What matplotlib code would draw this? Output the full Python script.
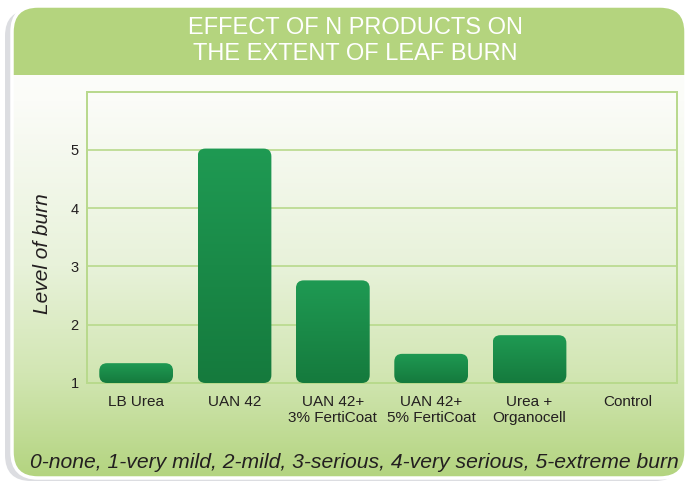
import numpy as np
import matplotlib
matplotlib.use("Agg")
import matplotlib.pyplot as plt
from matplotlib.patches import FancyBboxPatch, Rectangle
from matplotlib.colors import LinearSegmentedColormap

# data
categories = ["LB Urea", "UAN 42", "UAN 42+\n3% FertiCoat", "UAN 42+\n5% FertiCoat",
              "Urea +\nOrganocell", "Control"]
burn_level = [1.34, 5.02, 2.76, 1.50, 1.82, 1.0]
y_ticks = [1, 2, 3, 4, 5]

title = "EFFECT OF N PRODUCTS ON\nTHE EXTENT OF LEAF BURN"
footer = "0-none, 1-very mild, 2-mild, 3-serious, 4-very serious, 5-extreme burn"

W, H = 689, 484
plt.rcParams['font.family'] = ['Liberation Sans', 'DejaVu Sans']
text_col = "#231f20"
line_col = "#b8d98c"

fig = plt.figure(figsize=(W / 100, H / 100), dpi=100)
fig.patch.set_facecolor("white")

# background panel (pixel coords)
bg = fig.add_axes([0, 0, 1, 1])
bg.set_xlim(0, W)
bg.set_ylim(H, 0)
bg.axis("off")

shadow = FancyBboxPatch((5, 10), 676, 471, boxstyle="round,pad=0,rounding_size=26",
                        fc="#dcdde1", ec="none", zorder=0)
bg.add_patch(shadow)
panel = FancyBboxPatch((12, 6), 674, 472, boxstyle="round,pad=0,rounding_size=26",
                       fc="none", ec="white", lw=2.5, zorder=3)
bg.add_patch(panel)

body_cmap = LinearSegmentedColormap.from_list(
    "body", [(0, "#ffffff"), (0.2, "#fbfcf8"), (0.55, "#e8f2da"), (0.78, "#d2e6b3"), (1, "#b3d47f")])
grad = np.linspace(0, 1, 256).reshape(-1, 1)
img = bg.imshow(grad, extent=(12, 686, 478, 6), cmap=body_cmap, aspect="auto",
                origin="upper", zorder=1)
img.set_clip_path(panel)
header = Rectangle((12, 6), 674, 69, fc="#b4d47e", ec="none", zorder=2)
bg.add_patch(header)
header.set_clip_path(panel)
bg.set_xlim(0, W)
bg.set_ylim(H, 0)

bg.text(355, 41, title, color="white", fontsize=17, ha="center", va="center",
        linespacing=1.2, zorder=4)
bg.text(354, 462, footer, color=text_col, fontsize=15.2, style="italic",
        ha="center", va="center", zorder=4)
bg.text(42, 254, "Level of burn", color=text_col, fontsize=15, style="italic",
        rotation=90, ha="center", va="center", zorder=4)

# main chart
ax = fig.add_axes([87 / W, 1 - 383 / H, 590 / W, 291 / H])
ax.set_zorder(5)
ax.patch.set_alpha(0)
x = np.arange(len(categories))
bars = ax.bar(x, [v - 1 for v in burn_level], bottom=1, width=0.75, color="none")

bar_cmap = LinearSegmentedColormap.from_list("bar", ["#1f9a53", "#157a3d"])
for b in bars:
    h = b.get_height()
    if h <= 0:
        continue
    x0, w = b.get_x(), b.get_width()
    rr = FancyBboxPatch((x0, 1), w, h, boxstyle="round,pad=0,rounding_size=0.08",
                        mutation_aspect=98.3 / 58.3, fc="none", ec="none")
    ax.add_patch(rr)
    im = ax.imshow(grad, extent=(x0, x0 + w, 1, 1 + h), cmap=bar_cmap, aspect="auto",
                   origin="upper", zorder=3)
    im.set_clip_path(rr)

ax.set_xlim(-0.5, 5.5)
ax.set_ylim(1, 5.99)
ax.set_yticks(y_ticks)
ax.set_xticks(x)
ax.set_xticklabels(categories, linespacing=1.1)
ax.tick_params(axis="both", length=0, colors=text_col)
ax.tick_params(axis="x", labelsize=11, pad=9)
ax.tick_params(axis="y", labelsize=10.5, pad=6)
ax.grid(axis="y", color=line_col, lw=1.2)
ax.set_axisbelow(True)
for s in ax.spines.values():
    s.set_color(line_col)
    s.set_linewidth(1.4)

fig.savefig("out.png", dpi=100)
